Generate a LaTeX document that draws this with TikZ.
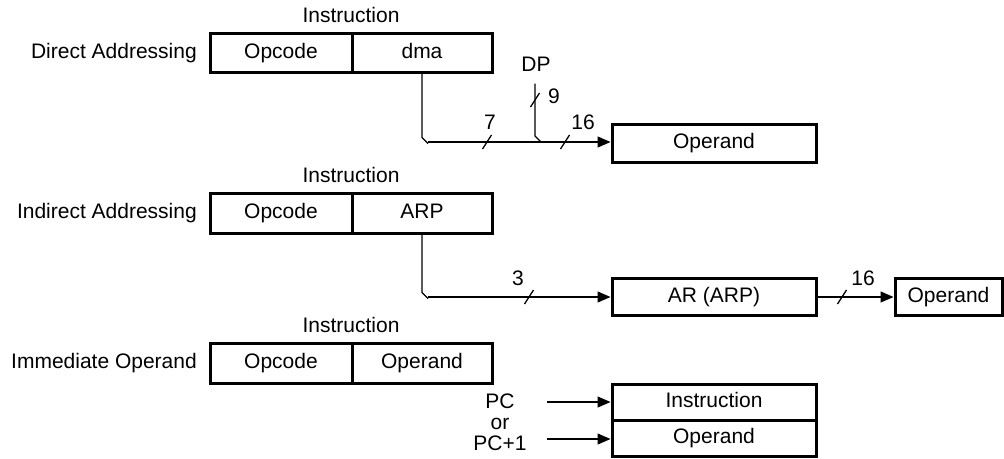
\documentclass[tikz,border=0pt]{standalone}
\usepackage{fontspec}
\setmainfont{Liberation Sans}
\usetikzlibrary{arrows.meta}
\begin{document}
\begin{tikzpicture}[x=1pt, y=-1pt, font=\fontsize{21}{21}\selectfont,
	reg style/.style={rectangle, draw, line width=3pt, minimum height=39pt, text height=15pt, text depth=4pt, inner sep=0pt},
	txt style/.style={inner sep=0pt, text height=15pt, text depth=4pt},
	bus/.style={line width=1.3pt, -{Triangle[length=13pt, width=11pt]}},
	wire/.style={line width=1.3pt}]
	\useasboundingbox (0,0) rectangle (1004,458);
	% direct addressing
	\node[txt style] (I1) at (351, 17) {Instruction};
	\node[reg style, minimum width=142pt] (O1) at (281, 52.5) {Opcode};
	\node[reg style, minimum width=140pt] (D1) at (422, 52.5) {dma};
	\node[txt style, anchor=east] (L1) at (197, 52.5) {Direct Addressing};
	\node[reg style, minimum width=204pt, minimum height=38pt] (P1) at (714, 143) {Operand};
	\node[txt style] (DP) at (536, 66) {DP};
	\draw[wire] (D1.south) -- ++(0, 64) -- ++(6, 6);
	\draw[wire] (DP.south) ++(-1, 8) -- (535, 136) -- ++(6, 6);
	\draw[bus] (428, 142) -- (P1.west |- 0, 142);
	% indirect addressing
	\node[txt style] (I2) at (351, 177) {Instruction};
	\node[reg style, minimum width=142pt, minimum height=40pt] (O2) at (281, 213) {Opcode};
	\node[reg style, minimum width=140pt, minimum height=40pt] (A2) at (422, 213) {ARP};
	\node[txt style, anchor=east] (L2) at (197, 213) {Indirect Addressing};
	\node[reg style, minimum width=204pt, minimum height=37pt] (R2) at (714, 297) {AR (ARP)};
	\node[reg style, minimum width=107pt, minimum height=37pt] (P2) at (948.5, 297) {Operand};
	\draw[wire] (A2.south) -- ++(0, 58) -- ++(6, 6);
	\draw[bus] (428, 297) -- (R2.west);
	\draw[bus] (R2.east) -- (P2.west);
	% immediate operand
	\node[txt style] (I3) at (351, 327) {Instruction};
	\node[reg style, minimum width=142pt, minimum height=40pt] (O3) at (281, 363) {Opcode};
	\node[reg style, minimum width=140pt, minimum height=40pt] (P3) at (422, 363) {Operand};
	\node[txt style, anchor=east] (L3) at (197, 363) {Immediate Operand};
	\node[reg style, minimum width=204pt, minimum height=36pt] (N3) at (714, 402) {Instruction};
	\node[reg style, minimum width=204pt, minimum height=36pt] (Q3) at (714, 438) {Operand};
	\node[inner sep=0pt, align=center] (PC) at (500, 422) {PC\\or\\PC+1};
	\coordinate (C1) at (547, 402);
	\coordinate (C2) at (547, 439);
	\draw[bus] (C1) -- (N3.west);
	\draw[bus] (C2) -- (Q3.west |- C2);
	% bus widths
	\foreach \x/\y in {487/142, 565/142, 535/100, 529/297, 842/297}
	\draw[wire] (\x-4.5, \y+7) -- (\x+4.5, \y-7);
	\node[txt style] (W1) at (490, 124) {7};
	\node[txt style] (W2) at (583, 124) {16};
	\node[txt style] (W3) at (554, 98) {9};
	\node[txt style] (W4) at (518, 280) {3};
	\node[txt style] (W5) at (863, 280) {16};
\end{tikzpicture}
\end{document}
